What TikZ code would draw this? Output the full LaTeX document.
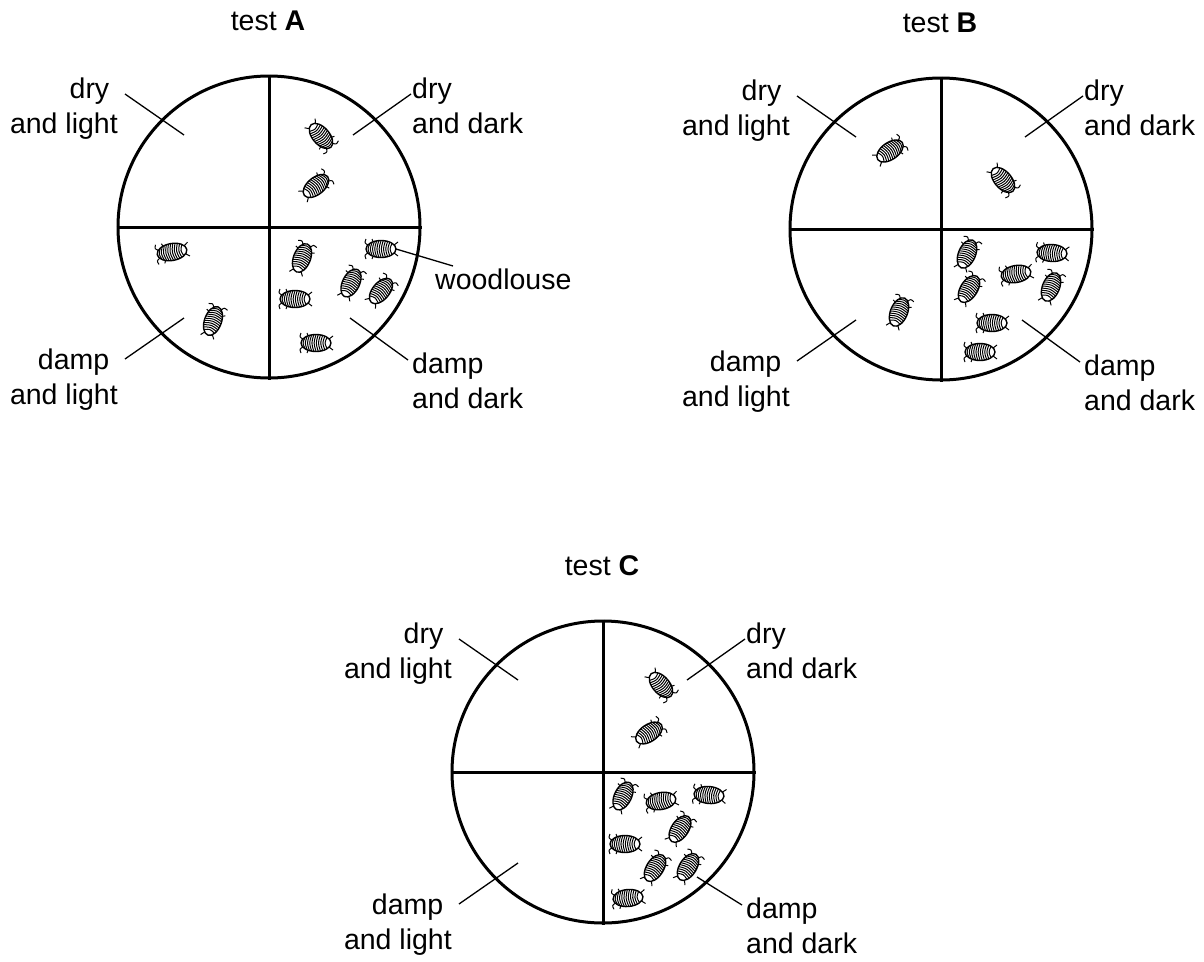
\documentclass[tikz,border=0pt]{standalone}
\usepackage{fontspec}
\setmainfont{Liberation Sans}
\tikzset{
	dish/.style={line width=3pt},
	leader/.style={line width=1.3pt},
	zone/.style={font=\fontsize{28.5pt}{35pt}\selectfont, inner sep=0pt},
	louse/.pic={
			\draw[line width=1.4pt, fill=white] (0,0) ellipse [x radius=15, y radius=8.5];
			\foreach \s/\h in {-11/5.6,-8.8/6.7,-6.6/7.4,-4.4/7.9,-2.2/8.2,0/8.2,2.2/8.2,4.4/7.9,6.6/7.4,8.8/6.7,11/5.6}
			\draw[line width=1pt] (\s,-\h) .. controls (\s+2.5,0) .. (\s,\h);
			\draw[line width=1pt] (13,-4) .. controls (16.5,-6) .. (15,-10) (13,4) .. controls (16.5,6) .. (15,10);
			\draw[line width=1pt] (8,-7.5) -- (9,-10) (8,7.5) -- (9,10);
			\draw[line width=1pt] (-13,-4) -- (-17,-7) (-13,4) -- (-17,7);
			\coordinate (-rear) at (-15,0);
		}
}

\begin{document}
\begin{tikzpicture}[x=1pt,y=-1pt]
	\useasboundingbox (0,0) rectangle (1204,961);
	\foreach \tst/\cx/\cy/\bx/\by in {A/269/227/81/91, B/941/229/81/91, C/603/772/94/105}{
			\node[zone, anchor=base] (title\tst) at (\cx-1,\cy-197) {test \textbf{\tst}};
			\node[dish, circle, draw, minimum size=302pt, inner sep=0pt] (dish\tst) at (\cx,\cy) {};
			\draw[dish] (dish\tst.north) -- (dish\tst.south);
			\draw[dish] (dish\tst.west) -- (dish\tst.east);
			\node[zone, align=right, anchor=base east] (dl\tst) at (\cx-151,\cy-94) {dry\kern.3em\\and light};
			\node[zone, align=left, anchor=base west] (dd\tst) at (\cx+143,\cy-94) {dry\\and dark};
			\node[zone, align=right, anchor=base east] (ml\tst) at (\cx-151,\cy+177) {damp\kern.3em\\and light};
			\node[zone, align=left, anchor=base west] (md\tst) at (\cx+143,\cy+181) {damp\\and dark};
			\coordinate (\tst-dl-a) at (\cx-144,\cy-133);
			\coordinate (\tst-dl-b) at (\cx-85,\cy-92);
			\coordinate (\tst-dd-a) at (\cx+142,\cy-133);
			\coordinate (\tst-dd-b) at (\cx+84,\cy-92);
			\coordinate (\tst-ml-a) at (\cx-144,\cy+132);
			\coordinate (\tst-ml-b) at (\cx-85,\cy+91);
			\coordinate (\tst-md-a) at (\cx+139,\cy+133);
			\coordinate (\tst-md-b) at (\cx+\bx,\cy+\by);
			\draw[leader] (\tst-dl-a) -- (\tst-dl-b);
			\draw[leader] (\tst-dd-a) -- (\tst-dd-b);
			\draw[leader] (\tst-ml-a) -- (\tst-ml-b);
			\draw[leader] (\tst-md-a) -- (\tst-md-b);
		}
	% woodlice, test A
	\foreach \x/\y/\r in {321/136/-49, 316/186/39, 172/252/190, 213/321/70, 302/258/69,
			351/283/64, 381/291/50, 295/299/180, 316/343/180}
	\pic[rotate=\r] at (\x,\y) {louse};
	\pic[rotate=180] (wl) at (381,249) {louse};
	% test B
	\foreach \x/\y/\r in {890/151/35, 1003/180/-49, 899/312/68, 967/254/67, 1052/253/177,
			1016/274/190, 969/289/58, 1051/287/68, 992/323/180, 980/352/180}
	\pic[rotate=\r] at (\x,\y) {louse};
	% test C
	\foreach \x/\y/\r in {661/685/-49, 649/733/34, 623/796/64, 661/801/190, 709/795/175,
			680/829/56, 625/844/180, 655/868/58, 688/867/58, 628/898/185}
	\pic[rotate=\r] at (\x,\y) {louse};
	\node[zone, anchor=base west] (woodlouse) at (435,289) {woodlouse};
	\coordinate (wl-end) at (453,266);
	\draw[leader] (wl-end) -- (wl-rear);
\end{tikzpicture}
\end{document}
